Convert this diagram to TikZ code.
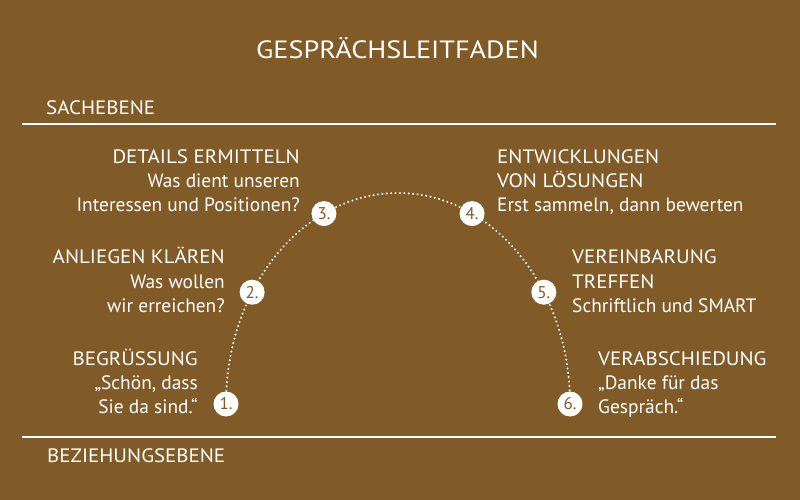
\documentclass[tikz,border=0pt]{standalone}
\usepackage{fontspec}
\usetikzlibrary{calc}
\setmainfont{PT Sans}
\newfontfamily\capsfont[FakeStretch=1.08]{PT Sans}
\newfontfamily\titlecaps[FakeStretch=1.13]{PT Sans}
\begin{document}
\begin{tikzpicture}[x=1pt,y=-1pt]
\definecolor{bg}{RGB}{128,91,39}
\tikzset{
  txt/.style={text=white,inner sep=0pt,font=\fontsize{19.4}{24}\selectfont},
  capstxt/.style={font=\capsfont\fontsize{19.4}{24}\selectfont},
  rtxt/.style={txt,anchor=base east},
  ltxt/.style={txt,anchor=base west},
  numc/.style={circle,fill=white,minimum size=25pt,inner sep=0pt,text=bg,font=\fontsize{17}{17}\selectfont},
  rule/.style={white,line width=1.6pt},
  dots/.style={white,line width=2.2pt,line cap=round,dash pattern=on 0pt off 4.4pt}
}
\fill[bg] (0,0) rectangle (800,500);
\useasboundingbox (0,0) rectangle (800,500);
% title and levels
\node[text=white,inner sep=0pt,anchor=base,font=\titlecaps\fontsize{25}{25}\selectfont] (title) at (397.5,59) {GESPRÄCHSLEITFADEN};
\node[ltxt,capstxt] (sach) at (46,115) {SACHEBENE};
\node[ltxt,capstxt] (bez) at (47,462) {BEZIEHUNGSEBENE};
\coordinate (t1) at (22,124); \coordinate (t2) at (776,124);
\coordinate (b1) at (22,437); \coordinate (b2) at (776,437);
\draw[rule] (t1) -- (t2);
\draw[rule] (b1) -- (b2);
% arc
\coordinate (ctr) at (398,404);
\coordinate (p1) at ($(ctr)+(180:172pt and 211pt)$);
\draw[dots] (p1) arc[start angle=180,end angle=0,x radius=172pt,y radius=211pt] coordinate (p6);
% circles
\node[numc] (c1) at (p1) {1.};
\node[numc] (c2) at ($(ctr)+(148:172pt and 211pt)$) {2.};
\node[numc] (c3) at ($(ctr)+(115.5:172pt and 211pt)$) {3.};
\node[numc] (c4) at ($(ctr)+(64.5:172pt and 211pt)$) {4.};
\node[numc] (c5) at ($(ctr)+(32:172pt and 211pt)$) {5.};
\node[numc] (c6) at (p6) {6.};
% block 1
\node[rtxt,capstxt] (a1) at (198,365) {BEGRÜSSUNG};
\node[rtxt] (a2) at (198,389) {„Schön, dass};
\node[rtxt] (a3) at (198,413) {Sie da sind.“};
% block 2
\node[rtxt,capstxt] (b21) at (225,263) {ANLIEGEN KLÄREN};
\node[rtxt] (b22) at (225,288) {Was wollen};
\node[rtxt] (b23) at (225,312) {wir erreichen?};
% block 3
\node[rtxt,capstxt] (d1) at (300,163) {DETAILS ERMITTELN};
\node[rtxt] (d2) at (300,187) {Was dient unseren};
\node[rtxt] (d3) at (300,211) {Interessen und Positionen?};
% block 4
\node[ltxt,capstxt] (e1) at (497,163) {ENTWICKLUNGEN};
\node[ltxt,capstxt] (e2) at (497,187) {VON LÖSUNGEN};
\node[ltxt] (e3) at (497,211) {Erst sammeln, dann bewerten};
% block 5
\node[ltxt,capstxt] (f1) at (572,263) {VEREINBARUNG};
\node[ltxt,capstxt] (f2) at (572,288) {TREFFEN};
\node[ltxt] (f3) at (572,312) {Schriftlich und SMART};
% block 6
\node[ltxt,capstxt] (g1) at (598,365) {VERABSCHIEDUNG};
\node[ltxt] (g2) at (598,389) {„Danke für das};
\node[ltxt] (g3) at (598,413) {Gespräch.“};
\end{tikzpicture}
\end{document}
